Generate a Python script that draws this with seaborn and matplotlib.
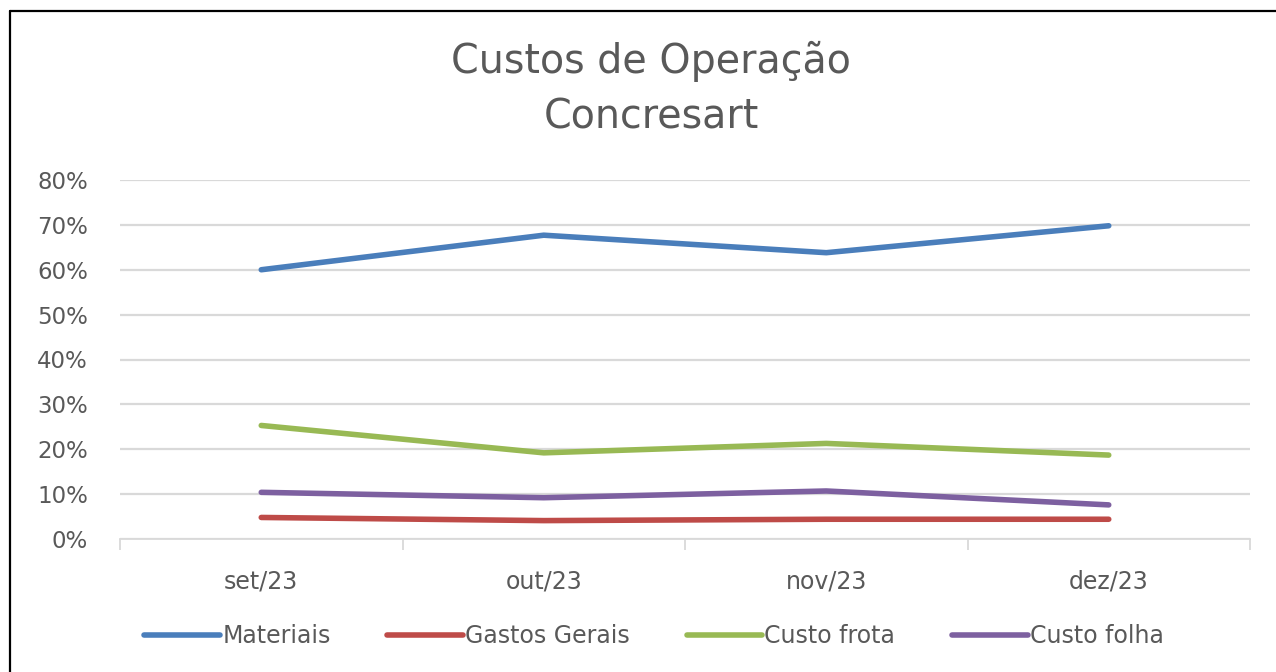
import pandas as pd
import seaborn as sns
import matplotlib.pyplot as plt
from matplotlib.lines import Line2D

# Custos de operação - Concresart (share of total cost per month)
months = ['set/23', 'out/23', 'nov/23', 'dez/23']
materiais = [0.600, 0.677, 0.638, 0.698]
gastos_gerais = [0.048, 0.041, 0.044, 0.044]
custo_frota = [0.253, 0.192, 0.213, 0.187]
custo_folha = [0.104, 0.092, 0.107, 0.076]
series_names = ['Materiais', 'Gastos Gerais', 'Custo frota', 'Custo folha']
y_ticks = [0, 0.1, 0.2, 0.3, 0.4, 0.5, 0.6, 0.7, 0.8]

colors = ['#4A7EBB', '#BE4B48', '#98B954', '#7D60A0']
grey = '#595959'

rows = []
for name, vals in zip(series_names, [materiais, gastos_gerais, custo_frota, custo_folha]):
    for i, v in enumerate(vals):
        rows.append({'pos': i, 'mes': months[i], 'serie': name, 'valor': v})
df = pd.DataFrame(rows)

sns.set_theme(style='white')
plt.rcParams['font.family'] = ['DejaVu Sans']

fig = plt.figure(figsize=(12.76, 6.72), dpi=100)
ax = fig.add_axes([120 / 1276, 1 - 539 / 672, 1130 / 1276, 359 / 672])

sns.lineplot(data=df, x='pos', y='valor', hue='serie', hue_order=series_names,
             palette=colors, linewidth=4.0, ax=ax, legend=False, sort=False)
for ln in ax.get_lines():
    ln.set_solid_capstyle('round')
    ln.set_solid_joinstyle('round')

ax.set_xlim(-0.5, 3.5)
ax.set_ylim(0, 0.8)
ax.set_yticks(y_ticks)
ax.set_yticklabels(['{:.0f}%'.format(t * 100) for t in y_ticks], color=grey, fontsize=16.5)
ax.yaxis.grid(True, color='#D9D9D9', linewidth=1.6)
ax.tick_params(axis='y', length=0, pad=23)

# category boundaries as ticks, labels in between
ax.set_xticks([-0.5, 0.5, 1.5, 2.5, 3.5])
ax.set_xticklabels([])
ax.set_xticks(range(len(months)), minor=True)
ax.set_xticklabels(months, minor=True, color=grey, fontsize=17)
ax.tick_params(axis='x', which='major', length=8, width=1.3, color='#D9D9D9', direction='out', bottom=True)
ax.tick_params(axis='x', which='minor', length=0, pad=22)
ax.set_xlabel('')
ax.set_ylabel('')

for s in ['top', 'right', 'left']:
    ax.spines[s].set_visible(False)
ax.spines['bottom'].set_color('#D9D9D9')
ax.spines['bottom'].set_linewidth(1.3)

fig.text(651 / 1276, 1 - 89 / 672, 'Custos de Operação\nConcresart', ha='center', va='center',
         fontsize=28.5, color=grey, linespacing=1.5)

handles = [Line2D([0], [0], color=c, linewidth=4.0, solid_capstyle='round') for c in colors]
leg = fig.legend(handles, series_names, loc='center', bbox_to_anchor=(654 / 1276, 1 - 636 / 672),
                 ncol=4, frameon=False, handlelength=3.2, handletextpad=0.1, columnspacing=2.4,
                 prop={'size': 17})
for t in leg.get_texts():
    t.set_color(grey)

# frame left/top like the original screenshot
fig.add_artist(Line2D([10 / 1276, 10 / 1276], [0, 1 - 11 / 672], color='black', linewidth=1.6))
fig.add_artist(Line2D([10 / 1276, 1], [1 - 11 / 672, 1 - 11 / 672], color='black', linewidth=1.6))

fig.savefig('out.png', dpi=100)
